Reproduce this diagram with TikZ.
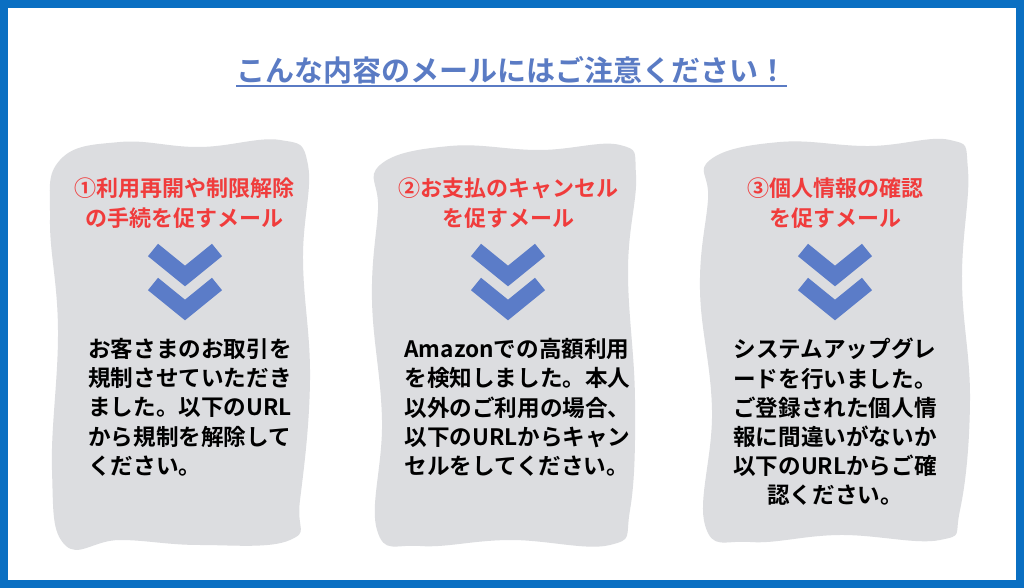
\documentclass[tikz,border=0pt]{standalone}
\usepackage{fontspec}
\newfontfamily\jp{Noto Sans CJK JP Bold}
\definecolor{frame}{HTML}{0A6FC2}
\definecolor{ttl}{HTML}{5A7BC4}
\definecolor{blob}{HTML}{DCDDE0}
\definecolor{red1}{HTML}{F03C3C}
\definecolor{chev}{HTML}{5B7CC8}
\tikzset{
 blobsh/.style={fill=blob,draw=none},
 head/.style={text=red1,font=\jp\fontsize{11}{15}\selectfont,align=center},
 body/.style={font=\jp\fontsize{11.3}{14.6}\selectfont,align=left,anchor=north west,inner sep=0pt},
 chv/.style={draw=chev,line width=8pt,miter limit=10}
}
\newcommand{\chevs}[2]{%
 \draw[chv] (#1-32,#2) -- (#1,#2+26) -- (#1+32,#2);
 \draw[chv] (#1-32,#2+34) -- (#1,#2+60) -- (#1+32,#2+34);}
\begin{document}
\begin{tikzpicture}[x=0.5pt,y=-0.5pt]
\useasboundingbox (0,0) rectangle (1024,588);
\fill[white] (0,0) rectangle (1024,588);
\draw[frame,line width=4pt] (4,4) rectangle (1020,584);
\node[text=ttl,font=\jp\fontsize{14.5}{16}\selectfont] (t) at (512,70) {こんな内容のメールにはご注意ください！};
\draw[ttl,line width=1pt] (236,86) -- (787,86);
% blobs
\fill[blobsh] plot[smooth cycle,tension=0.7] coordinates {(60,160) (120,142) (200,147) (280,140) (308,165) (303,260) (310,380) (300,500) (290,540) (200,545) (120,540) (65,545) (52,470) (58,330) (50,220)};
\fill[blobsh] plot[smooth cycle,tension=0.7] coordinates {(380,165) (450,146) (540,150) (620,145) (636,175) (628,270) (635,400) (630,510) (610,545) (510,540) (420,546) (377,530) (382,420) (372,300) (378,210)};
\fill[blobsh] plot[smooth cycle,tension=0.7] coordinates {(710,160) (780,142) (870,146) (950,140) (968,170) (962,280) (970,400) (960,510) (940,540) (840,535) (750,542) (705,525) (712,410) (700,290) (708,200)};
% panel 1
\node[head] (h1) at (185,203) {①利用再開や制限解除\\の手続を促すメール};
\chevs{185}{250}
\node[body] (b1) at (88,338) {お客さまのお取引を\\規制させていただき\\ました。以下のURL\\から規制を解除して\\ください。};
% panel 2
\node[head] (h2) at (508,203) {②お支払のキャンセル\\を促すメール};
\chevs{508}{250}
\node[body] (b2) at (404,338) {Amazonでの高額利用\\を検知しました。本人\\以外のご利用の場合、\\以下のURLからキャン\\セルをしてください。};
% panel 3
\node[head] (h3) at (835,203) {③個人情報の確認\\を促すメール};
\chevs{835}{250}
\node[body,align=center,anchor=north] (b3) at (835,338) {システムアップグレ\\ードを行いました。\\ご登録された個人情\\報に間違いがないか\\以下のURLからご確\\認ください。};
\end{tikzpicture}
\end{document}
